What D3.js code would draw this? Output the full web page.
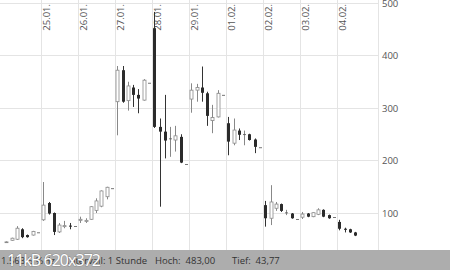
<!DOCTYPE html>
<html>
<head>
<meta charset="utf-8">
<script src="https://cdn.jsdelivr.net/npm/d3@7"></script>
<style>
  body { margin: 0; background: #fff; }
  text { font-family: "Open Sans", sans-serif; }
</style>
</head>
<body>
<svg id="chart" width="450" height="270"></svg>
<script>
// day labels, first trading day (22.01.) has no label
const dayLabels = ["", "25.01.", "26.01.", "27.01.", "28.01.", "29.01.", "01.02.", "02.02.", "03.02.", "04.02."];
const slotsPerDay = 7;

// hourly candles, 7 per day (last one is the closing print)
const opens  = [44.5, 48, 50, 69, 58, 58, 63,
                87, 119, 100, 64, 74, 76, 75,
                86, 84, 88, 105, 113, 131, 147,
                312, 372, 314, 339, 325, 315, 348,
                452, 264, 255, 242, 239, 245, 193,
                317, 334, 339, 328, 276, 283, 325,
                271, 233, 257, 250, 250, 240, 225,
                115, 90, 109, 117, 101, 99, 88.6,
                92, 99, 93, 97.5, 106, 96, 92,
                83, 70, 69, 63];
const highs  = [46, 53, 75, 71, 59, 66, 63,
                159, 121, 101, 81, 85, 81, 75,
                93, 90, 113, 128, 143, 150, 147,
                380, 380, 350, 344, 336, 355, 348,
                483, 280, 325, 264, 266, 250, 193,
                347, 346, 379, 331, 306, 334, 325,
                283, 280, 261, 257, 251, 242, 225,
                123, 153, 121, 118, 106, 100, 88.6,
                102, 100, 101, 109, 107, 97, 92,
                87, 72, 70, 64];
const lows   = [43.77, 47, 48.6, 52, 53, 57, 63,
                85, 97, 58, 62, 71, 69, 75,
                81, 81, 87, 100, 111, 126, 147,
                248, 310, 295, 302, 290, 314, 348,
                262, 112, 204, 207, 217, 195, 193,
                291, 312, 312, 266, 252, 282, 325,
                210, 229, 239, 229, 238, 214, 225,
                74, 77, 104, 102, 96, 89, 88.6,
                88.6, 92, 92, 96, 92, 89, 92,
                67, 63, 62, 56];
const closes = [45, 52, 71, 54, 54, 65, 63,
                115, 99, 64, 77, 76, 74, 75,
                88, 86, 112, 123, 142, 149, 147,
                372, 312, 342, 325, 318, 353, 348,
                264, 255, 238, 242, 247, 196, 193,
                334, 339, 329, 285, 282, 328, 325,
                236, 258, 249, 250, 239, 226, 225,
                90, 121, 117, 104, 101, 90, 88.6,
                98, 93, 100.6, 106, 93, 90, 92,
                70, 68, 63, 57];
const yTicks = [100, 200, 300, 400, 500];
const footerItems = ["Intervall: 1 Stunde", "Hoch:  483,00", "Tief:  43,77"];

const candles = opens.map((o, i) => ({ i, o, h: highs[i], l: lows[i], c: closes[i] }));

const svg = d3.select("#chart");
const plotRight = 378, plotBottom = 250;

const x = d3.scaleLinear().domain([0, dayLabels.length * slotsPerDay]).range([4, 374]);
const y = d3.scaleLinear().domain([0, 500]).range([265.5, 3]);

svg.append("defs").append("clipPath").attr("id", "plot")
  .append("rect").attr("x", 0).attr("y", 0).attr("width", plotRight).attr("height", plotBottom);

// grid
const grid = svg.append("g").attr("stroke", "#e4e4e4").attr("stroke-width", 1);
grid.selectAll("line.h").data(yTicks).join("line")
  .attr("x1", 0).attr("x2", plotRight)
  .attr("y1", d => Math.round(y(d)) + 0.5).attr("y2", d => Math.round(y(d)) + 0.5);
grid.selectAll("line.v").data(dayLabels.map((d, k) => k).filter(k => k > 0)).join("line")
  .attr("x1", k => Math.round(x(k * slotsPerDay)) + 0.5).attr("x2", k => Math.round(x(k * slotsPerDay)) + 0.5)
  .attr("y1", 0).attr("y2", plotBottom);
grid.append("line").attr("x1", plotRight + 0.5).attr("x2", plotRight + 0.5).attr("y1", 0).attr("y2", plotBottom);

// date labels (rotated)
svg.append("g").selectAll("text").data(dayLabels.map((d, k) => ({ d, k })).filter(e => e.d)).join("text")
  .attr("transform", e => `translate(${x(e.k * slotsPerDay) + 9},4) rotate(-90)`)
  .attr("text-anchor", "end")
  .attr("font-size", 9.5)
  .attr("fill", "#555")
  .text(e => e.d);

// right axis
const yAxis = svg.append("g")
  .attr("transform", `translate(${plotRight},0)`)
  .call(d3.axisRight(y).tickValues(yTicks).tickSize(0).tickPadding(4));
yAxis.select(".domain").remove();
yAxis.selectAll("text").attr("font-size", 9.5).attr("fill", "#555").attr("font-family", "Open Sans, sans-serif");

// candles
const bodyW = 3;
const cg = svg.append("g").attr("clip-path", "url(#plot)");
const cx = d => Math.round(x(d.i + 0.42)) + 0.5;
cg.selectAll("line.wick").data(candles).join("line")
  .attr("class", "wick")
  .attr("x1", cx).attr("x2", cx)
  .attr("y1", d => y(d.h)).attr("y2", d => y(d.l))
  .attr("stroke", d => d.c >= d.o ? "#888" : "#333");
cg.selectAll("rect.body").data(candles).join("rect")
  .attr("class", "body")
  .attr("x", d => cx(d) - bodyW / 2)
  .attr("width", bodyW)
  .attr("y", d => y(Math.max(d.o, d.c)))
  .attr("height", d => Math.max(0.8, Math.abs(y(d.o) - y(d.c))))
  .attr("fill", d => d.c > d.o ? "#fff" : (d.c === d.o ? "#555" : "#2b2b2b"))
  .attr("stroke", d => d.c > d.o ? "#8a8a8a" : "none")
  .attr("stroke-width", 0.8);

// footer
svg.append("rect").attr("x", 0).attr("y", plotBottom).attr("width", 450).attr("height", 20).attr("fill", "#adadad");
const fx = [67, 155, 232];
svg.append("g").selectAll("text").data(footerItems).join("text")
  .attr("x", (d, i) => fx[i]).attr("y", 263.5)
  .attr("font-size", 9.5).attr("fill", "#333")
  .attr("xml:space", "preserve")
  .text(d => d);
svg.append("text").attr("x", 1).attr("y", 263.5).attr("font-size", 9.5).attr("fill", "#333").text("1.563,5 %Hz");

// thumbnail overlay
svg.append("text").attr("x", 7).attr("y", 266)
  .attr("font-size", 16).attr("fill", "#fff")
  .attr("stroke", "#8c8c8c").attr("stroke-width", 0.8).attr("paint-order", "stroke")
  .attr("textLength", 94)
  .text("11kB 620x372");
</script>
</body>
</html>
